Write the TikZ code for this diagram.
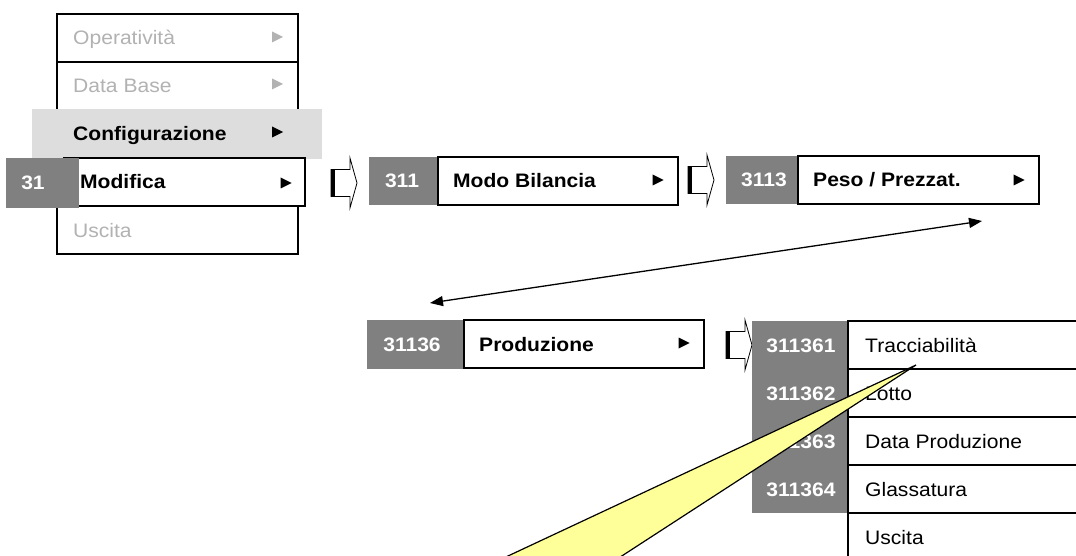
\documentclass[tikz,border=0pt]{standalone}
\usepackage{fontspec}
\setmainfont[FakeStretch=1.08]{Liberation Sans}
\usetikzlibrary{arrows.meta}
\definecolor{numgray}{HTML}{808080}
\definecolor{bandgray}{HTML}{DDDDDD}
\definecolor{dimtext}{HTML}{B2B2B2}
\definecolor{callyellow}{HTML}{FFFF99}
\tikzset{
  menubox/.style={draw=black, line width=1.3pt, fill=white, rectangle, inner sep=0pt},
  numbox/.style={fill=numgray, rectangle, inner sep=0pt},
  txt/.style={anchor=base west, inner sep=0pt, font=\fontsize{19.5}{22}\selectfont},
  numtxt/.style={anchor=base, inner sep=0pt, text=white, font=\fontsize{19.5}{22}\selectfont\bfseries},
  blockarr/.pic={
    \filldraw[fill=white, draw=black, line width=0.8pt]
      (0,-13.5) -- (19,-13.5) -- (19,-25) -- (26,0) -- (19,25) -- (19,13.5) -- (0,13.5) -- cycle;
    \draw[line width=3.5pt] (1.75,-13.5) -- (1.75,13.5);
  },
  menutri/.pic={
    \fill (-5.5,-5.5) -- (5.5,0) -- (-5.5,5.5) -- cycle;
  },
  dblarrow/.style={line width=1.3pt, {Triangle[length=13pt,width=10pt]}-{Triangle[length=13pt,width=10pt]}},
  callout/.style={fill=callyellow, draw=black, line width=1.2pt, line join=miter}
}
\begin{document}
\begin{tikzpicture}[x=1pt,y=-1pt]
\useasboundingbox (0,0) rectangle (1076,556);
\clip (0,0) rectangle (1076,556);

% ---- first menu ----
\node[menubox, minimum width=241pt, minimum height=48pt] (rowop) at (177.5,38) {};
\node[menubox, minimum width=241pt, minimum height=48pt] (rowdb) at (177.5,86) {};
\node[menubox, minimum width=241pt, minimum height=48pt] (rowconf) at (177.5,134) {};
\node[menubox, minimum width=241pt, minimum height=48pt] (rowusc) at (177.5,230) {};
\node[fill=bandgray, inner sep=0pt, minimum width=290pt, minimum height=50pt] (band) at (177,134) {};
\node[menubox, minimum width=241pt, minimum height=48pt] (rowmod) at (184.5,182) {};
\node[numbox, minimum width=73pt, minimum height=50pt] (n31) at (42.5,183) {};

\node[txt, text=dimtext] (top) at (73,45) {Operatività};
\node[txt, text=dimtext] (tdb) at (73,93) {Data Base};
\node[txt, font=\fontsize{19.5}{22}\selectfont\bfseries] (tconf) at (73,141) {Configurazione};
\node[txt, font=\fontsize{19.5}{22}\selectfont\bfseries] (tmod) at (80,189) {Modifica};
\node[txt, text=dimtext] (tusc) at (73,237) {Uscita};
\node[numtxt] (t31) at (33,190) {31};
\pic[dimtext] at (277.5,37) {menutri};
\pic[dimtext] at (277.5,84) {menutri};
\pic[black] at (277.5,132) {menutri};
\pic[black] at (286,183) {menutri};

\pic at (331,183) {blockarr};

% ---- second level ----
\node[numbox, minimum width=69pt, minimum height=48pt] (n311) at (403.5,181) {};
\node[menubox, minimum width=240pt, minimum height=48pt] (modo) at (558,181) {};
\node[numtxt] (t311) at (402,188) {311};
\node[txt, font=\fontsize{19.5}{22}\selectfont\bfseries] (tmodo) at (453,188) {Modo Bilancia};
\pic[black] at (658,180) {menutri};

\pic at (688,180) {blockarr};

% ---- third level ----
\node[numbox, minimum width=72pt, minimum height=48pt] (n3113) at (762,180) {};
\node[menubox, minimum width=241pt, minimum height=48pt] (peso) at (918.5,180) {};
\node[numtxt] (t3113) at (764,187) {3113};
\node[txt, font=\fontsize{19.5}{22}\selectfont\bfseries] (tpeso) at (813,187) {Peso / Prezzat.};
\pic[black] at (1019,180) {menutri};

% ---- double arrow ----
\coordinate (dbR) at (982,221);
\coordinate (dbL) at (430,303);
\draw[dblarrow] (dbL) -- (dbR);

% ---- fourth level ----
\node[numbox, minimum width=97pt, minimum height=49pt] (n31136) at (415.5,344.5) {};
\node[menubox, minimum width=240pt, minimum height=48pt] (prod) at (584,344) {};
\node[numtxt] (t31136) at (412,351) {31136};
\node[txt, font=\fontsize{19.5}{22}\selectfont\bfseries] (tprod) at (479,351) {Produzione};
\pic[black] at (684,343) {menutri};

\pic at (726,345) {blockarr};

% ---- fifth level ----
\node[numbox, minimum width=96pt, minimum height=192pt] (nright) at (800,417) {};
\node[menubox, minimum width=252pt, minimum height=48pt] (r1) at (974,345) {};
\node[menubox, minimum width=252pt, minimum height=48pt] (r2) at (974,393) {};
\node[menubox, minimum width=252pt, minimum height=48pt] (r3) at (974,441) {};
\node[menubox, minimum width=252pt, minimum height=48pt] (r4) at (974,489) {};
\node[menubox, minimum width=252pt, minimum height=48pt] (r5) at (974,537) {};
\node[numtxt] (t1) at (801,352) {311361};
\node[numtxt] (t2) at (801,400) {311362};
\node[numtxt] (t3) at (801,448) {311363};
\node[numtxt] (t4) at (801,496) {311364};
\node[txt] (l1) at (865,352) {Tracciabilità};
\node[txt] (l2) at (865,400) {Lotto};
\node[txt] (l3) at (865,448) {Data Produzione};
\node[txt] (l4) at (865,496) {Glassatura};
\node[txt] (l5) at (865,544) {Uscita};

% ---- callout ----
\coordinate (ctip) at (916,365);
\filldraw[callout] (ctip) -- (414,600) -- (554,600) -- cycle;
\end{tikzpicture}
\end{document}
